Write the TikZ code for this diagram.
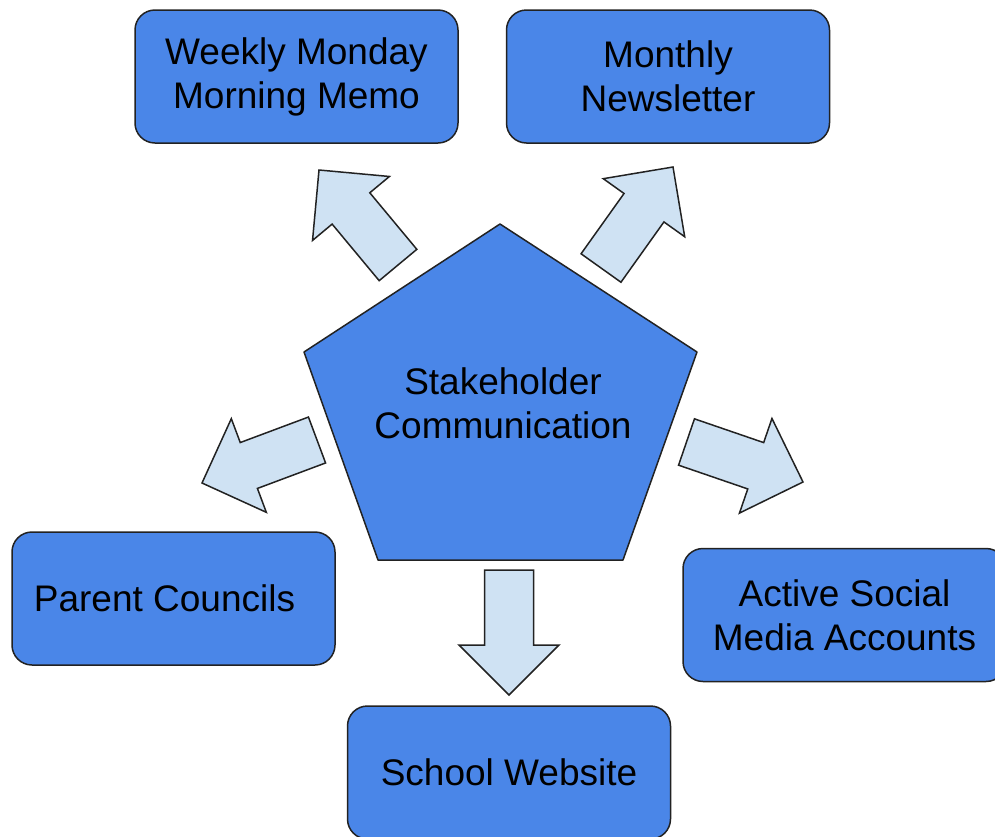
\documentclass[tikz,border=0pt]{standalone}
\usepackage{fontspec}
\setmainfont{Liberation Sans}
\usetikzlibrary{calc}
\definecolor{boxblue}{HTML}{4A86E8}
\definecolor{arrowblue}{HTML}{CFE2F3}
\definecolor{edge}{HTML}{222222}

\begin{document}
\begin{tikzpicture}
  [x=1pt,y=-1pt,every node/.style={font=\fontsize{37}{44}\selectfont,align=center},
   box/.style={draw=edge,line width=1.5pt,fill=boxblue,rounded corners=20pt,minimum width=323pt,minimum height=133pt},
   fatarrow/.style={draw=edge,line width=1.5pt,fill=arrowblue,line join=miter}]
  \clip (0,0) rectangle (995,836);

  \node[box] (memo)    at (296.5,76.5) {Weekly Monday\\Morning Memo};
  \node[box] (letter)  at (668,76.5)   {Monthly\\Newsletter};
  \node[box] (parents) at (173.5,598.5) {Parent Councils\kern18pt};
  \node[box] (social)  at (844.5,615)  {Active Social\\Media Accounts};
  \node[box] (website) at (509,772.5)  {School Website};

  \draw[draw=edge,line width=1.5pt,fill=boxblue,line join=round]
    (500,224) -- (697,352) -- (623,560) -- (378,560) -- (304,352) -- cycle;
  \node (hub) at (503,403) {Stakeholder\\Communication};

  \coordinate (memoT)    at (398,265);   \coordinate (memoH)    at (319,170);
  \coordinate (letterT)  at (601,268);   \coordinate (letterH)  at (673,167);
  \coordinate (parentsT) at (317,440);   \coordinate (parentsH) at (202,483);
  \coordinate (socialT)  at (686.5,442); \coordinate (socialH)  at (803,482);
  \coordinate (websiteT) at (509,570);   \coordinate (websiteH) at (509,695);

  \foreach \from/\to in {memoT/memoH, letterT/letterH, parentsT/parentsH, socialT/socialH, websiteT/websiteH} {
    \coordinate (ahead) at ($(\to)!50pt!(\from)$);
    \draw[fatarrow] ($(\from)!24.5pt!90:(\to)$) -- ($(ahead)!24.5pt!90:(\to)$) -- ($(ahead)!50pt!90:(\to)$)
      -- (\to) -- ($(ahead)!50pt!-90:(\to)$) -- ($(ahead)!24.5pt!-90:(\to)$) -- ($(\from)!24.5pt!-90:(\to)$) -- cycle;
  }

\end{tikzpicture}
\end{document}
